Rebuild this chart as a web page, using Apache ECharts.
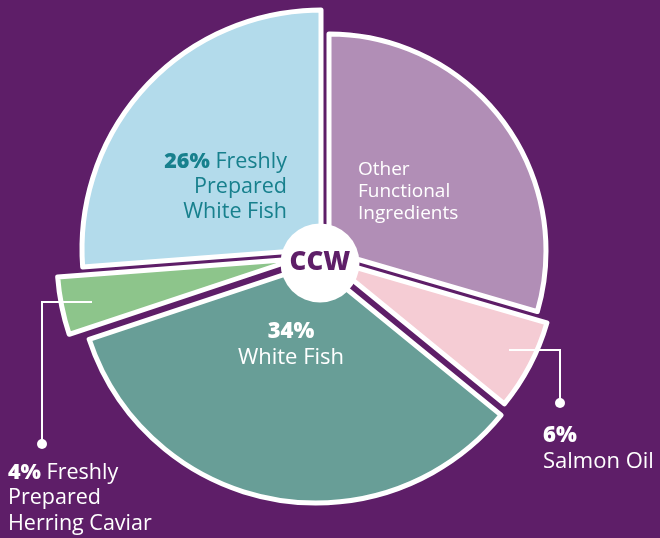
<!DOCTYPE html>
<html>
<head>
<meta charset="utf-8">
<script src="https://cdn.jsdelivr.net/npm/echarts@6/dist/echarts.min.js"></script>
<style>
  html, body { margin: 0; padding: 0; background: #5e1e68; }
  #chart { width: 660px; height: 538px; }
</style>
</head>
<body>
<div id="chart"></div>
<script>
// slices, clockwise from 12 o'clock
var categories = ['Other Functional Ingredients', 'Salmon Oil', 'White Fish', 'Freshly Prepared Herring Caviar', 'Freshly Prepared White Fish'];
var shares = [29.5, 6.4, 34, 3.9, 26.2];
var labelNames = ['Other\nFunctional\nIngredients', 'Salmon Oil', 'White Fish', 'Freshly\nPrepared\nHerring Caviar', 'Freshly\nPrepared\nWhite Fish'];
var showPct = [false, true, true, true, true];
var pctOwnLine = [false, true, true, false, false];

var bg = '#5e1e68';
var colors = ['#b18eb6', '#f5ccd4', '#689e97', '#8dc58b', '#b3dbeb'];
var textColors = ['#ffffff', '#ffffff', '#ffffff', '#ffffff', '#17808d'];
// each slice is pulled out on its own, with its own radius
var centers = [[329, 251], [327, 259], [316, 264], [296, 259], [321, 249]];
var radii = [217, 229, 239, 239, 239];
var labelPos = [
  { x: 358, y: 159, align: 'left' },
  { x: 543, y: 423, align: 'left' },
  { x: 291, y: 319, align: 'center' },
  { x: 8, y: 460, align: 'left' },
  { x: 287, y: 149, align: 'right' }
];
var lineHeights = [22, 26, 26, 25.5, 25];
var fontSizes = [19, 22, 22, 21.5, 21.5];

var FONT = 'Open Sans';

function labelText(i) {
  var lines = labelNames[i].split('\n');
  if (!showPct[i]) return lines.map(function (l) { return '{n|' + l + '}'; }).join('\n');
  var pct = '{b|' + Math.round(shares[i]) + '%}';
  if (pctOwnLine[i]) return pct + '\n' + lines.map(function (l) { return '{n|' + l + '}'; }).join('\n');
  return pct + '{n| ' + lines[0] + '}\n' + lines.slice(1).map(function (l) { return '{n|' + l + '}'; }).join('\n');
}

var series = categories.map(function (name, i) {
  return {
    type: 'pie',
    silent: true,
    startAngle: 90,
    clockwise: true,
    center: centers[i],
    radius: [0, radii[i]],
    z: 2,
    data: shares.map(function (v, j) {
      var on = (j === i);
      return {
        name: categories[j],
        value: v,
        itemStyle: on
          ? { color: colors[j], borderColor: '#ffffff', borderWidth: 5 }
          : { color: 'rgba(0,0,0,0)', borderWidth: 0 },
        label: on ? {
          show: true,
          position: 'inside',
          formatter: labelText(j),
          color: textColors[j],
          fontFamily: FONT,
          fontSize: fontSizes[j],
          lineHeight: lineHeights[j],
          rich: {
            b: { fontFamily: FONT, fontWeight: 800, fontSize: fontSizes[j], lineHeight: lineHeights[j], color: textColors[j] },
            n: { fontFamily: FONT, fontWeight: 500, fontSize: fontSizes[j], lineHeight: lineHeights[j], color: textColors[j] }
          }
        } : { show: false },
        labelLine: { show: false }
      };
    }),
    labelLayout: function () {
      return { x: labelPos[i].x, y: labelPos[i].y, align: labelPos[i].align, verticalAlign: 'top' };
    }
  };
});

var chart = echarts.init(document.getElementById('chart'));
chart.setOption({
  backgroundColor: bg,
  animation: false,
  series: series,
  graphic: [
    { type: 'circle', z: 100, shape: { cx: 320, cy: 263, r: 39.5 }, style: { fill: '#ffffff' } },
    { type: 'text', z: 101, x: 320, y: 263, style: { text: 'CCW', fill: bg, font: '800 26px "Open Sans"', align: 'center', verticalAlign: 'middle' } },
    // leader for Salmon Oil
    { type: 'polyline', z: 100, shape: { points: [[509, 350], [560, 350], [560, 403]] }, style: { stroke: '#ffffff', lineWidth: 2, fill: null } },
    { type: 'circle', z: 100, shape: { cx: 560, cy: 403, r: 5 }, style: { fill: '#ffffff' } },
    // leader for Herring Caviar
    { type: 'polyline', z: 100, shape: { points: [[92, 302], [42, 302], [42, 444]] }, style: { stroke: '#ffffff', lineWidth: 2, fill: null } },
    { type: 'circle', z: 100, shape: { cx: 42, cy: 444, r: 5 }, style: { fill: '#ffffff' } }
  ]
});
</script>
</body>
</html>
